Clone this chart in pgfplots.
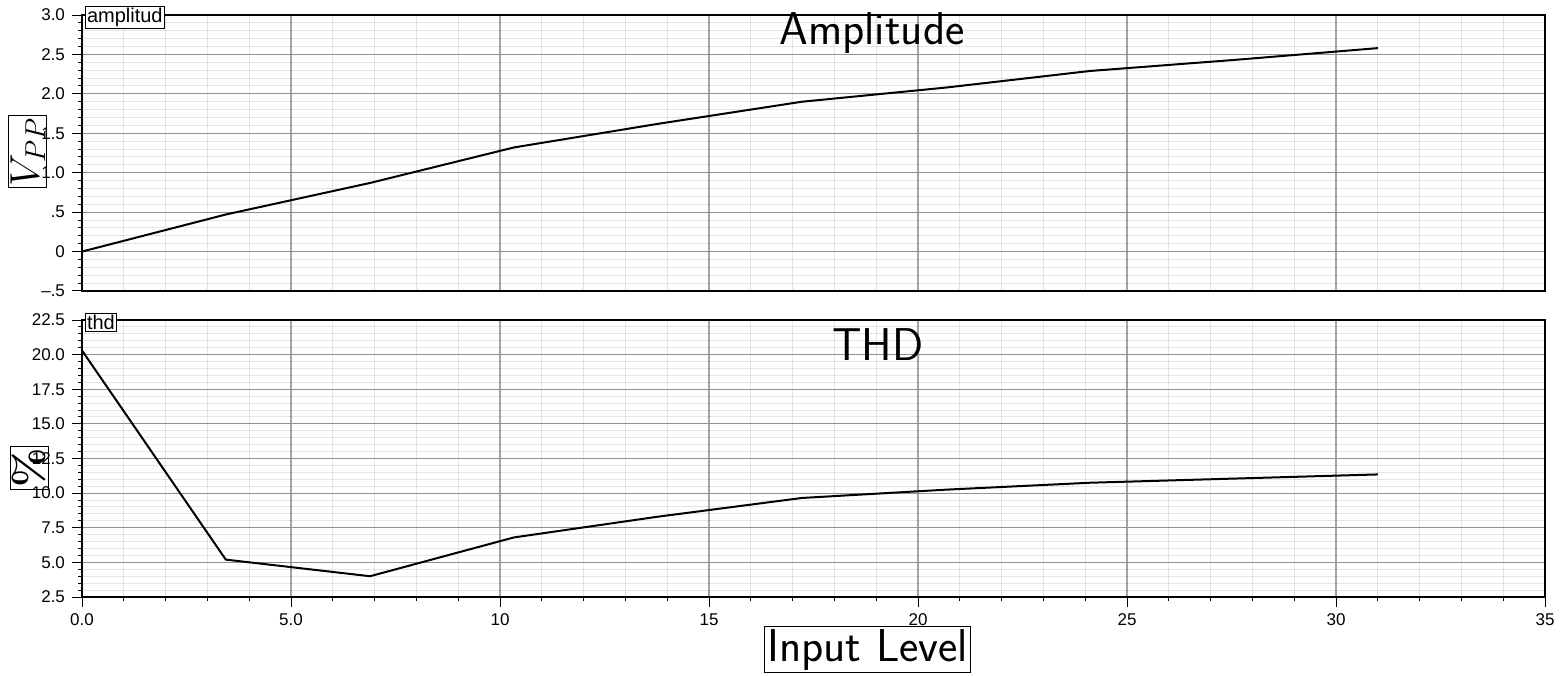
\documentclass[border=0pt]{standalone}
\usepackage{fontspec}
\usepackage{pgfplots}
\pgfplotsset{compat=1.18}
\newfontfamily\helv{Liberation Sans}
\definecolor{majxgrid}{RGB}{165,165,165}
\definecolor{majygrid}{RGB}{145,145,145}
\begin{document}
\begin{tikzpicture}
\useasboundingbox (0,0) rectangle (783pt,337.5pt);
\pgfplotsset{
  every axis/.append style={
    scale only axis,
    width=731.5pt,
    xmin=0, xmax=35,
    xtick={0,5,10,15,20,25,30,35},
    minor x tick num=4,
    grid=both,
    major x grid style={majxgrid, line width=0.55pt},
    major y grid style={majygrid, line width=0.55pt},
    minor grid style={black, opacity=0.1, line width=0.5pt},
    axis line style={line width=1.3pt},
    tick align=outside,
    major tick length=5pt,
    minor tick length=2pt,
    tick style={black, line width=0.5pt},
    ticklabel style={font=\helv\fontsize{8.5}{10}\selectfont},
    xtick pos=bottom, ytick pos=left,
    clip mode=individual,
  },
}
% Top axis: Amplitude
\begin{axis}[
  at={(41pt,192pt)}, anchor=south west,
  height=138pt,
  ymin=-0.5, ymax=3.0,
  ytick={-0.5,0,0.5,1.0,1.5,2.0,2.5,3.0},
  yticklabels={–.5,0,.5,1.0,1.5,2.0,2.5,3.0},
  minor y tick num=4,
  xticklabels={},
  x tick style={draw=none},
  ylabel={$V_{PP}$},
  ylabel style={at={(axis description cs:-0.037,0.504)}, anchor=center, rotate=0,
    draw, line width=0.5pt, inner sep=0.8pt, font=\fontsize{20}{24}\selectfont},
]
\addplot[black, line width=1pt] coordinates {
 (0,0) (3.44,0.47) (6.89,0.87) (10.33,1.32) (13.78,1.62) (17.22,1.90)
 (20.67,2.08) (24.11,2.29) (27.56,2.43) (31.0,2.58)
};
\node[font=\sffamily\fontsize{23}{27}\selectfont] at (axis description cs:0.54,0.935) {Amplitude};
\node[draw, fill=white, line width=0.5pt, inner sep=0.8pt, anchor=west,
  font=\helv\fontsize{10}{12}\selectfont] at (axis description cs:0.002,0.99) {amplitud};
\end{axis}
% Bottom axis: THD
\begin{axis}[
  at={(41pt,39pt)}, anchor=south west,
  height=138.5pt,
  ymin=2.5, ymax=22.5,
  ytick={2.5,5,7.5,10,12.5,15,17.5,20,22.5},
  yticklabels={2.5,5.0,7.5,10.0,12.5,15.0,17.5,20.0,22.5},
  minor y tick num=4,
  xticklabels={0.0,5.0,10,15,20,25,30,35},
  ylabel={\rmfamily\bfseries\%},
  ylabel style={at={(axis description cs:-0.036,0.466)}, anchor=center, rotate=0,
    draw, line width=0.5pt, inner sep=1pt, font=\fontsize{21}{24}\selectfont},
  xlabel={Input Level},
  xlabel style={at={(axis description cs:0.537,-0.19)}, anchor=center,
    draw, line width=0.5pt, inner sep=1.2pt, font=\sffamily\fontsize{23}{26}\selectfont},
]
\addplot[black, line width=1pt] coordinates {
 (0,20.3) (3.44,5.2) (6.89,4.0) (10.33,6.8) (13.78,8.3) (17.22,9.65)
 (20.67,10.25) (24.11,10.75) (27.56,11.05) (31.0,11.35)
};
\node[font=\sffamily\fontsize{23}{27}\selectfont] at (axis description cs:0.544,0.91) {THD};
\node[draw, fill=white, line width=0.5pt, inner sep=0.8pt, anchor=west,
  font=\helv\fontsize{10}{12}\selectfont] at (axis description cs:0.002,0.99) {thd};
\end{axis}
\end{tikzpicture}
\end{document}
